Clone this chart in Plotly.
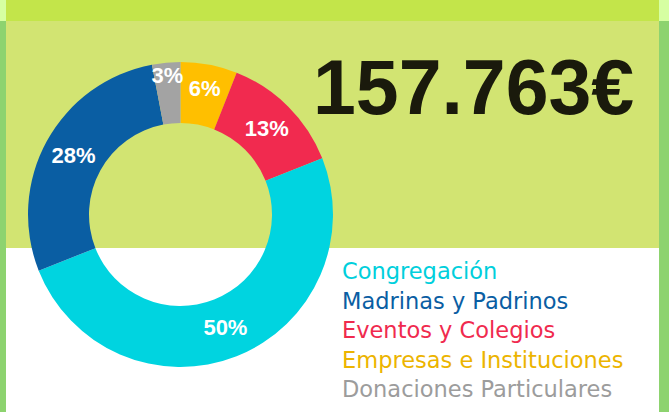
import plotly.graph_objects as go

# Data (clockwise from 12 o'clock)
labels = ["Empresas e Instituciones", "Eventos y Colegios", "Congregación",
          "Madrinas y Padrinos", "Donaciones Particulares"]
values = [6, 13, 50, 28, 3]
colors = ["#ffbf00", "#f12a4f", "#00d4e0", "#0a5ea3", "#a3a3a3"]
legend_order = ["Congregación", "Madrinas y Padrinos", "Eventos y Colegios",
                "Empresas e Instituciones", "Donaciones Particulares"]
legend_colors = ["#00cfdc", "#0a5ea3", "#f02a4e", "#ecb400", "#9c9c9c"]
total_text = "157.763€"

W, H = 669, 412
FONT = "Liberation Sans, Arial, sans-serif"
LEGFONT = "DejaVu Sans, Verdana, sans-serif"

fig = go.Figure()
fig.add_trace(go.Pie(
    labels=labels, values=values, sort=False, direction="clockwise", rotation=0,
    hole=0.6, marker=dict(colors=colors, line=dict(width=0)),
    textinfo="percent", textposition="inside", insidetextorientation="horizontal",
    textfont=dict(family=FONT, size=22, color="white", weight="bold"),
    domain=dict(x=[28 / W, 333 / W], y=[45 / H, 350 / H]),
    showlegend=False, hoverinfo="label+percent",
))

shapes = [
    dict(type="rect", xref="paper", yref="paper", x0=0, x1=6 / W, y0=0, y1=1 - 21 / H,
         fillcolor="#8dd36f", line=dict(width=0), layer="below"),
    dict(type="rect", xref="paper", yref="paper", x0=0, x1=6 / W, y0=1 - 21 / H, y1=1,
         fillcolor="#d6ffa2", line=dict(width=0), layer="below"),
    dict(type="rect", xref="paper", yref="paper", x0=659 / W, x1=1, y0=0, y1=1 - 21 / H,
         fillcolor="#8dd36f", line=dict(width=0), layer="below"),
    dict(type="rect", xref="paper", yref="paper", x0=659 / W, x1=1, y0=1 - 21 / H, y1=1,
         fillcolor="#d6ffa2", line=dict(width=0), layer="below"),
    dict(type="rect", xref="paper", yref="paper", x0=6 / W, x1=659 / W, y0=1 - 21 / H, y1=1,
         fillcolor="#c3e54a", line=dict(width=0), layer="below"),
    dict(type="rect", xref="paper", yref="paper", x0=6 / W, x1=659 / W, y0=1 - 248 / H,
         y1=1 - 21 / H, fillcolor="#d2e472", line=dict(width=0), layer="below"),
]

annotations = [dict(
    text=total_text, xref="paper", yref="paper", x=473 / W, y=1 - 87 / H,
    xanchor="center", yanchor="middle", showarrow=False,
    font=dict(family=FONT, size=77, color="#1a1a0c", weight="bold"),
)]
for i, (lab, col) in enumerate(zip(legend_order, legend_colors)):
    annotations.append(dict(
        text=lab, xref="paper", yref="paper", x=340 / W, y=1 - (271 + i * 29.5) / H,
        xanchor="left", yanchor="middle", showarrow=False,
        font=dict(family=LEGFONT, size=22.5, color=col),
    ))

fig.update_layout(
    width=W, height=H, margin=dict(l=0, r=0, t=0, b=0),
    paper_bgcolor="white", plot_bgcolor="white",
    shapes=shapes, annotations=annotations,
    uniformtext=dict(minsize=22, mode="show"),
)
fig.write_html("out.html", config={"displayModeBar": False},
               post_script="document.body.style.margin='0';")
